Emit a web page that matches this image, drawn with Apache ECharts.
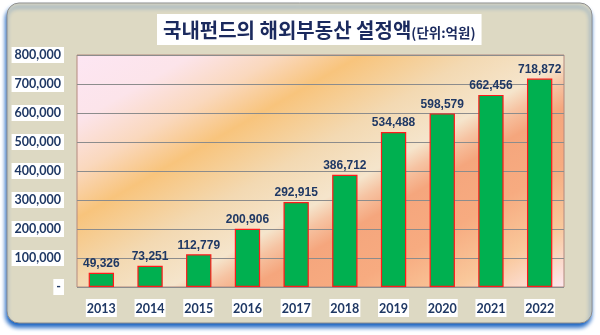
<!DOCTYPE html>
<html>
<head>
<meta charset="utf-8">
<script src="https://cdn.jsdelivr.net/npm/echarts@6/dist/echarts.min.js"></script>
<style>
  html, body { margin: 0; padding: 0; background: #ffffff; }
  #chart { width: 600px; height: 335px; }
</style>
</head>
<body>
<div id="chart"></div>
<script>
// Overseas real-estate fund commitments by domestic funds (unit: 100 million KRW)
const years = ['2013', '2014', '2015', '2016', '2017', '2018', '2019', '2020', '2021', '2022'];
const amounts = [49326, 73251, 112779, 200906, 292915, 386712, 534488, 598579, 662456, 718872];
const yTicks = { min: 0, max: 800000, interval: 100000 };

const navy = '#1f3864';
const numFmt = v => v.toLocaleString('en-US');

const chart = echarts.init(document.getElementById('chart'), null, { renderer: 'canvas' });

// Diagonal warm gradient for the plot area (global pixel coords)
const plotFill = new echarts.graphic.LinearGradient(77, 55, 297, 439, [
  { offset: 0.00, color: '#fde6f3' },
  { offset: 0.13, color: '#fce4ea' },
  { offset: 0.23, color: '#fad8bd' },
  { offset: 0.32, color: '#f8c47c' },
  { offset: 0.45, color: '#f3d9b2' },
  { offset: 0.56, color: '#f5e5cc' },
  { offset: 0.60, color: '#f6c3a2' },
  { offset: 0.65, color: '#f5a67d' },
  { offset: 0.76, color: '#f7ab80' },
  { offset: 0.88, color: '#f9c89b' },
  { offset: 1.00, color: '#fde7ee' }
], true);

chart.setOption({
  animation: false,
  backgroundColor: '#ffffff',
  graphic: [{
    type: 'rect',
    z: -10,
    shape: { x: 7, y: 3, width: 585, height: 320, r: 12 },
    style: {
      fill: '#ddd9c3',
      stroke: '#8f8f8f',
      lineWidth: 1,
      shadowBlur: 4,
      shadowOffsetX: -1,
      shadowOffsetY: 4,
      shadowColor: '#1560c0'
    }
  }],
  title: {
    left: 157,
    top: 10,
    padding: [6, 6, 5, 6],
    backgroundColor: '#ffffff',
    text: '{a|국내펀드의 해외부동산 설정액}{b|(단위:억원)}',
    textStyle: {
      rich: {
        a: {
          fontFamily: '"Noto Sans CJK KR", sans-serif',
          fontWeight: 'bold',
          fontSize: 20,
          lineHeight: 24,
          color: '#1b2a5e',
          verticalAlign: 'bottom'
        },
        b: {
          fontFamily: '"Noto Sans CJK KR", sans-serif',
          fontWeight: 'bold',
          fontSize: 13.5,
          lineHeight: 21,
          color: '#1b2a5e',
          verticalAlign: 'bottom'
        }
      }
    }
  },
  grid: {
    left: 77,
    right: 36,
    top: 55,
    bottom: 48,
    show: true,
    backgroundColor: plotFill,
    borderColor: '#b3897e',
    borderWidth: 1
  },
  xAxis: {
    type: 'category',
    data: years,
    axisLine: { show: false },
    axisTick: { show: false },
    axisLabel: {
      margin: 12,
      fontFamily: 'Lato, sans-serif',
      fontWeight: 'bold',
      fontSize: 12.5,
      color: navy,
      backgroundColor: '#ffffff',
      padding: [3, 1, 2, 1]
    }
  },
  yAxis: {
    type: 'value',
    min: yTicks.min,
    max: yTicks.max,
    interval: yTicks.interval,
    axisLine: { show: false },
    axisTick: { show: false },
    splitLine: { lineStyle: { color: '#8c8c8c', width: 1 } },
    axisLabel: {
      margin: 13,
      fontFamily: 'Lato, sans-serif',
      fontWeight: 'bold',
      fontSize: 12.5,
      color: navy,
      backgroundColor: '#ffffff',
      padding: [2, 3, 1, 3],
      formatter: v => (v === 0 ? '-' : numFmt(v))
    }
  },
  series: [{
    type: 'bar',
    data: amounts,
    barWidth: '52%',
    itemStyle: {
      color: '#00b050',
      borderColor: '#ff1a1a',
      borderWidth: 1.2
    },
    label: {
      show: true,
      position: 'top',
      distance: 3,
      fontFamily: '"Liberation Sans", Arial, sans-serif',
      fontWeight: 'bold',
      fontSize: 12,
      color: navy,
      formatter: p => numFmt(p.value)
    }
  }]
});
</script>
</body>
</html>
